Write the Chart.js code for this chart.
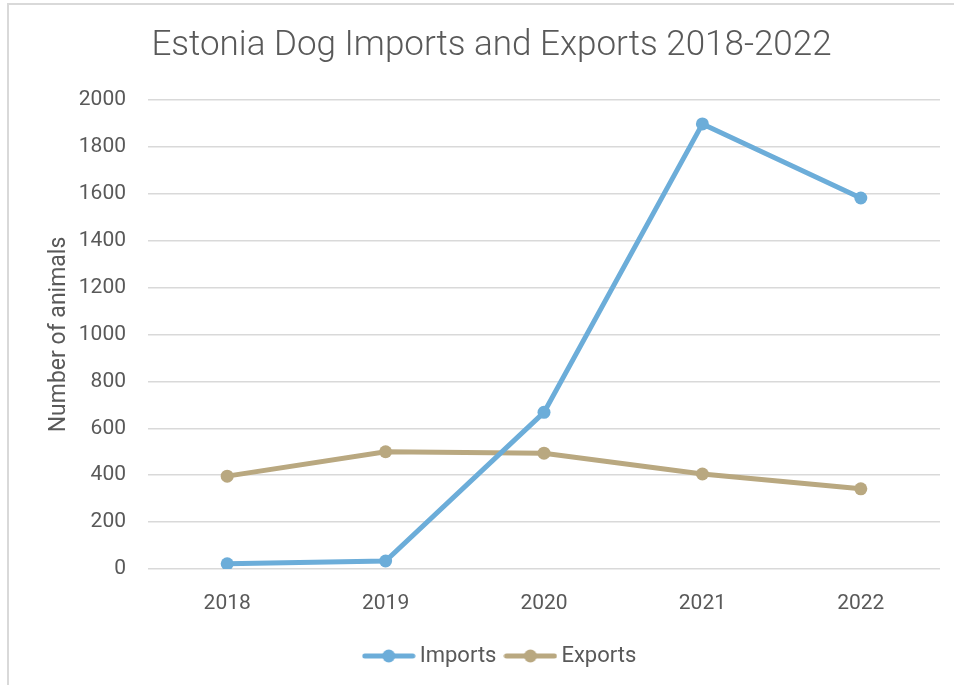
<!DOCTYPE html>
<html>
<head>
<meta charset="utf-8">
<script src="https://cdn.jsdelivr.net/npm/chart.js@4"></script>
<style>
html,body{margin:0;padding:0;background:#fff;}
#frame{position:absolute;left:7px;top:3px;width:1000px;height:800px;border:2px solid #d9d9d9;box-sizing:border-box;}
#wrap{position:absolute;left:0;top:0;width:954px;height:685px;}
</style>
</head>
<body>
<div id="frame"></div>
<div id="wrap"><canvas id="c" width="954" height="685"></canvas></div>
<script>
const years = ['2018', '2019', '2020', '2021', '2022'];
const imports = [22, 34, 668, 1898, 1582];
const exports = [396, 500, 494, 405, 342];
const titleText = 'Estonia Dog Imports and Exports 2018-2022';
const yTitle = 'Number of animals';

const FONT = 'Roboto';
const TXT = '#595959';
const BLUE = '#6cadd9';
const TAN = '#b9a880';

function legendIcon(color) {
  const cv = document.createElement('canvas');
  cv.width = 54; cv.height = 16;
  const g = cv.getContext('2d');
  g.strokeStyle = color; g.lineWidth = 5; g.lineCap = 'round';
  g.beginPath(); g.moveTo(3, 8); g.lineTo(51, 8); g.stroke();
  g.fillStyle = color;
  g.beginPath(); g.arc(27, 8, 6.5, 0, Math.PI * 2); g.fill();
  return cv;
}
const icons = [legendIcon(BLUE), legendIcon(TAN)];

const legendShift = {
  id: 'legendShift',
  afterLayout(chart) {
    const lg = chart.legend;
    if (lg) { lg.left += 11; lg.right += 11; }
  }
};

new Chart(document.getElementById('c'), {
  type: 'line',
  data: {
    labels: years,
    datasets: [
      {label: 'Imports', data: imports, borderColor: BLUE, backgroundColor: BLUE,
       borderWidth: 5, pointRadius: 6.5, pointHoverRadius: 6.5, pointBorderWidth: 0, tension: 0},
      {label: 'Exports', data: exports, borderColor: TAN, backgroundColor: TAN,
       borderWidth: 5, pointRadius: 6.5, pointHoverRadius: 6.5, pointBorderWidth: 0, tension: 0}
    ]
  },
  plugins: [legendShift],
  options: {
    responsive: false,
    animation: false,
    events: [],
    layout: {padding: {left: 43, right: 14, top: 0, bottom: 8}},
    plugins: {
      tooltip: {enabled: false},
      title: {
        display: true, text: titleText, color: TXT,
        font: {family: FONT, size: 35, weight: '300'},
        padding: {top: 25, bottom: 33}
      },
      legend: {
        display: true, position: 'bottom',
        labels: {
          color: TXT, font: {family: FONT, size: 22},
          usePointStyle: true, pointStyleWidth: 40, padding: 14,
          generateLabels(chart) {
            const items = Chart.defaults.plugins.legend.labels.generateLabels(chart);
            items.forEach((it, i) => { it.pointStyle = icons[i]; });
            return items;
          }
        }
      }
    },
    scales: {
      x: {
        offset: true,
        grid: {display: false, drawTicks: false, offset: true},
        border: {display: false},
        ticks: {color: TXT, font: {family: FONT, size: 21}, padding: 22},
        afterFit(s) { s.height = 62; }
      },
      y: {
        min: 0, max: 2000,
        grid: {color: '#d9d9d9', lineWidth: 1.5, drawTicks: false},
        border: {display: false},
        ticks: {stepSize: 200, color: TXT, font: {family: FONT, size: 21}, padding: 22,
                callback: (v) => String(v)},
        title: {display: true, text: yTitle, color: TXT, font: {family: FONT, size: 23}, padding: {top: 2, bottom: 6}},
        afterFit(s) { s.width = 105; }
      }
    }
  }
});
</script>
</body>
</html>
